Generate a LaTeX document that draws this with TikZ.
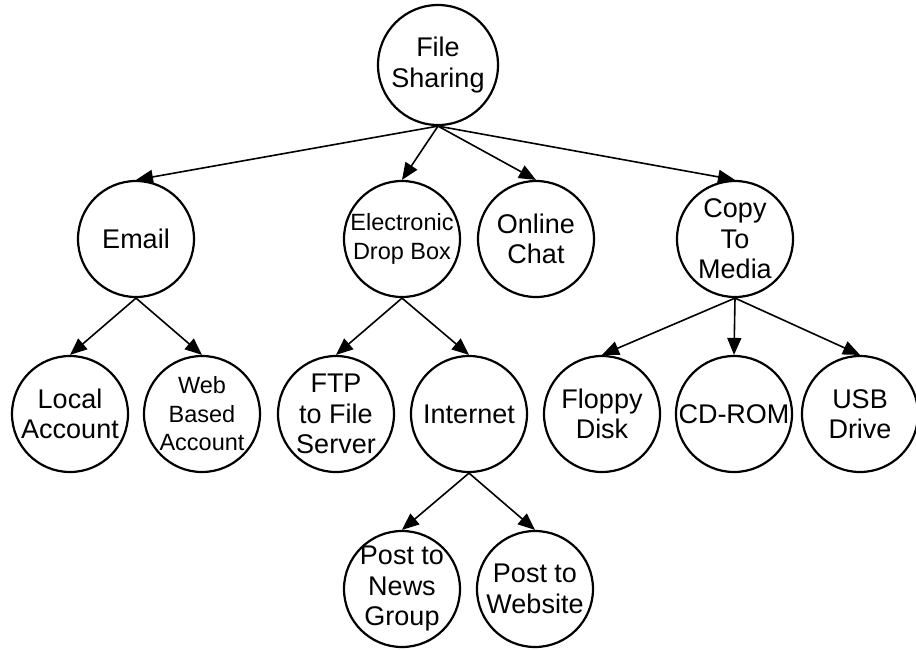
\documentclass[tikz,border=0pt]{standalone}
\usepackage{fontspec}
\setmainfont{Liberation Sans}
\usetikzlibrary{arrows.meta}
\begin{document}
\begin{tikzpicture}[x=1pt,y=-1pt,
  circ/.style={draw=black,line width=2.2pt,circle,minimum size=116pt,inner sep=0pt},
  txt/.style={align=center,inner sep=0pt,font=\fontsize{27}{30.5}\selectfont},
  smalltxt/.style={align=center,inner sep=0pt,font=\fontsize{23.5}{28.5}\selectfont},
  arr/.style={line width=1.6pt,-{Triangle[length=17pt,width=14pt]}}]
\useasboundingbox (0,0) rectangle (916,649);
% circles
\node[circ,minimum size=120pt] (fs) at (438,65) {};
\node[circ] (email) at (136,239) {};
\node[circ] (drop) at (402,239) {};
\node[circ] (chat) at (536,239) {};
\node[circ] (copy) at (735,239) {};
\node[circ] (local) at (70,414) {};
\node[circ] (web) at (202,414) {};
\node[circ] (ftp) at (336,414) {};
\node[circ] (inet) at (469,414) {};
\node[circ] (floppy) at (602,414) {};
\node[circ] (cd) at (734,414) {};
\node[circ] (usb) at (860,414) {};
\node[circ] (news) at (402,589) {};
\node[circ] (site) at (535,589) {};
% texts
\node[txt] (fst) at (fs) {File\\Sharing};
\node[txt] (emailt) at (email) {Email};
\node[smalltxt] (dropt) at (drop) {Electronic\\Drop Box};
\node[txt] (chatt) at (chat) {Online\\Chat};
\node[txt] (copyt) at (copy) {Copy\\To\\Media};
\node[txt] (localt) at (local) {Local\\Account};
\node[smalltxt] (webt) at (web) {Web\\Based\\Account};
\node[txt] (ftpt) at (ftp) {FTP\\to File\\Server};
\node[txt] (inett) at (inet) {Internet};
\node[txt] (floppyt) at (floppy) {Floppy\\Disk};
\node[txt] (cdt) at (cd) {CD-ROM};
\node[txt] (usbt) at (usb) {USB\\Drive};
\node[txt] (newst) at (news) {Post to\\News\\Group};
\node[txt] (sitet) at (site) {Post to\\Website};
% connectors
\foreach \c in {email,drop,chat,copy} \draw[arr] (fs.south) -- (\c.north);
\foreach \c in {local,web} \draw[arr] (email.south) -- (\c.north);
\foreach \c in {ftp,inet} \draw[arr] (drop.south) -- (\c.north);
\foreach \c in {floppy,cd,usb} \draw[arr] (copy.south) -- (\c.north);
\foreach \c in {news,site} \draw[arr] (inet.south) -- (\c.north);
\end{tikzpicture}
\end{document}
